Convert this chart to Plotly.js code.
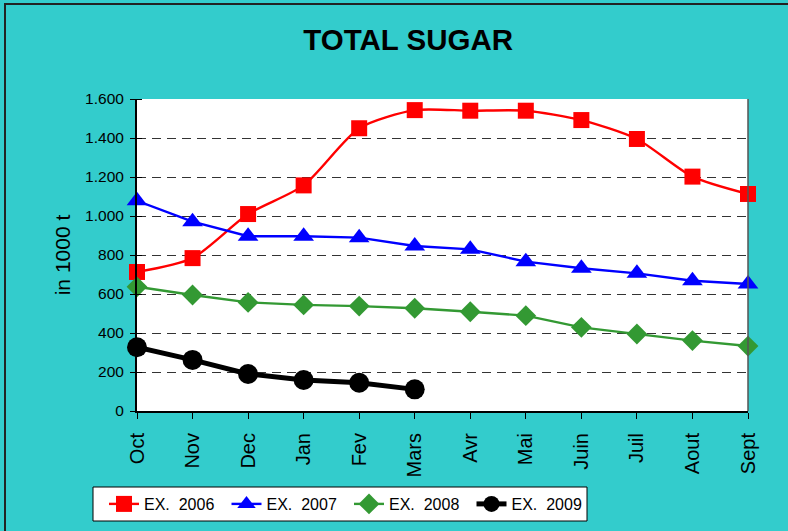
<!DOCTYPE html>
<html>
<head>
<meta charset="utf-8">
<script src="https://cdn.plot.ly/plotly-3.0.1.min.js"></script>
<style>html,body{margin:0;padding:0;background:#33CCCC;}#chart{width:788px;height:531px;}</style>
</head>
<body>
<div id="chart"></div>
<script>
var months = ["Oct","Nov","Dec","Jan","Fev","Mars","Avr","Mai","Juin","Juil","Aout","Sept"];
var ex2006 = [713, 784, 1010, 1157, 1450, 1543, 1540, 1540, 1492, 1395, 1202, 1113];
var ex2007 = [1078, 971, 896, 896, 889, 846, 829, 766, 732, 706, 668, 651];
var ex2008 = [637, 595, 557, 544, 538, 527, 509, 489, 429, 395, 361, 333];
var ex2009 = [327, 262, 190, 159, 145, 111];
var seriesNames = ["EX.  2006","EX.  2007","EX.  2008","EX.  2009"];

var traces = [
  {x: months, y: ex2006, name: seriesNames[0], type: "scatter", mode: "lines+markers",
   line: {color: "#FF0000", width: 2.4, shape: "spline", smoothing: 0.7},
   marker: {symbol: "square", size: 16, color: "#FF0000"}, cliponaxis: false},
  {x: months, y: ex2007, name: seriesNames[1], type: "scatter", mode: "lines+markers",
   line: {color: "#0000FF", width: 2.4},
   marker: {symbol: "triangle-up", size: 18, color: "#0000FF"}, cliponaxis: false},
  {x: months, y: ex2008, name: seriesNames[2], type: "scatter", mode: "lines+markers",
   line: {color: "#339933", width: 2.4},
   marker: {symbol: "diamond", size: 16, color: "#339933"}, cliponaxis: false},
  {x: months.slice(0, ex2009.length), y: ex2009, name: seriesNames[3], type: "scatter", mode: "lines+markers",
   line: {color: "#000000", width: 5},
   marker: {symbol: "circle", size: 20, color: "#000000"}, cliponaxis: false}
];

var pw = 611, ph = 312, L = 137, T = 99;
function px(x){ return (x - L) / pw; }
function py(y){ return (T + ph - y) / ph; }

var layout = {
  width: 788, height: 531,
  paper_bgcolor: "#33CCCC",
  plot_bgcolor: "#FFFFFF",
  separators: ",.",
  margin: {l: L, r: 788 - L - pw, t: T, b: 531 - T - ph, pad: 0, autoexpand: false},
  font: {family: "Liberation Sans, Arial, sans-serif", color: "#000000"},
  title: {text: "<b>TOTAL SUGAR</b>", font: {size: 29.5, color: "#000000"},
          xref: "container", x: 0.518, xanchor: "center", yref: "container", y: 1 - 40/531, yanchor: "middle"},
  xaxis: {type: "category", range: [0, 11], showgrid: false, zeroline: false,
          showline: true, linecolor: "#000000", linewidth: 2,
          ticks: "outside", ticklen: 6, tickcolor: "#000000", tickwidth: 1,
          tickangle: -90, tickfont: {size: 20}, ticklabelstandoff: 6,
          fixedrange: true},
  yaxis: {range: [0, 1600], dtick: 200, tickformat: ",d", showgrid: true,
          gridcolor: "#333333", gridwidth: 1, griddash: "9px,6px",
          zeroline: false, showline: true, linecolor: "#000000", linewidth: 2,
          ticks: "outside", ticklen: 5, tickcolor: "#000000", tickwidth: 1,
          tickfont: {size: 15.5}, ticklabelstandoff: 3,
          minor: {ticks: "inside", ticklen: 5, dtick: 200, tick0: 0, tickcolor: "#000000", showgrid: false},
          title: {text: "in 1000 t", font: {size: 21}, standoff: 9},
          fixedrange: true},
  showlegend: true,
  legend: {orientation: "h", xref: "container", yref: "container", x: 104/788, y: 1 - 487/531,
           xanchor: "left", yanchor: "top",
           bgcolor: "rgba(0,0,0,0)", borderwidth: 0,
           font: {size: 16, color: "#000000"},
           itemsizing: "trace", tracegroupgap: 0,
           entrywidth: 77.5, entrywidthmode: "pixels"},
  shapes: [
    {type: "line", xref: "paper", yref: "paper", x0: 1, x1: 1, y0: 0, y1: 1,
     line: {color: "#555555", width: 1.5}},
    {type: "rect", xref: "paper", yref: "paper", x0: px(5), x1: px(800), y0: py(4), y1: py(545),
     line: {color: "#222222", width: 2}, fillcolor: "rgba(0,0,0,0)", layer: "below"},
    {type: "rect", xref: "paper", yref: "paper", x0: px(93), x1: px(587), y0: py(487), y1: py(521),
     line: {color: "#000000", width: 1}, fillcolor: "#FFFFFF", layer: "below"}
  ]
};

Plotly.newPlot("chart", traces, layout, {displayModeBar: false, staticPlot: true});
</script>
</body>
</html>
